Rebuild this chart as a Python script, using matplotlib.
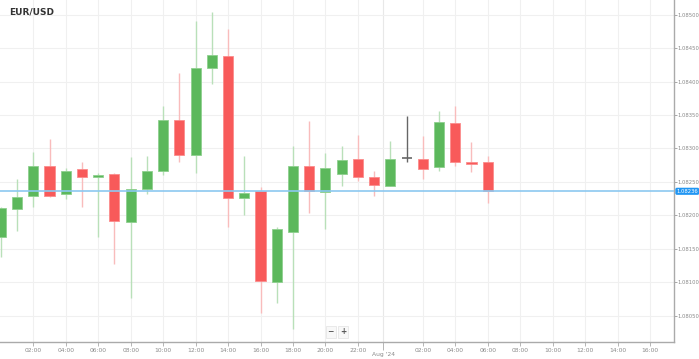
import matplotlib
matplotlib.use('Agg')
import matplotlib.pyplot as plt
import numpy as np

# hourly EUR/USD candles, hour 0 = 00:00 of the first day
hours = list(range(31))
opens = [1.08168, 1.08209, 1.08229, 1.08274, 1.08232, 1.08269, 1.08257, 1.08262,
         1.08190, 1.08240, 1.08266, 1.08342, 1.08291, 1.08420, 1.08439, 1.08226,
         1.08236, 1.08100, 1.08175, 1.08274, 1.08235, 1.08262, 1.08284, 1.08258,
         1.08244, 1.08286, 1.08285, 1.08272, 1.08338, 1.08280, 1.08280]
highs = [1.08213, 1.08255, 1.08295, 1.08314, 1.08271, 1.08280, 1.08263, 1.08263,
         1.08287, 1.08289, 1.08364, 1.08413, 1.08491, 1.08504, 1.08479, 1.08289,
         1.08242, 1.08182, 1.08304, 1.08341, 1.08293, 1.08304, 1.08320, 1.08267,
         1.08311, 1.08349, 1.08318, 1.08356, 1.08364, 1.08309, 1.08289]
lows = [1.08138, 1.08177, 1.08213, 1.08228, 1.08224, 1.08212, 1.08167, 1.08127,
        1.08076, 1.08232, 1.08261, 1.08280, 1.08263, 1.08396, 1.08183, 1.08201,
        1.08054, 1.08069, 1.08030, 1.08204, 1.08180, 1.08244, 1.08252, 1.08229,
        1.08244, 1.08280, 1.08254, 1.08267, 1.08274, 1.08265, 1.08219]
closes = [1.08211, 1.08228, 1.08274, 1.08229, 1.08267, 1.08258, 1.08261, 1.08191,
          1.08240, 1.08267, 1.08342, 1.08290, 1.08420, 1.08440, 1.08226, 1.08234,
          1.08102, 1.08179, 1.08274, 1.08236, 1.08271, 1.08283, 1.08257, 1.08246,
          1.08285, 1.08286, 1.08270, 1.08339, 1.08280, 1.08277, 1.08236]
last_price = 1.08236

tick_hours = [2, 4, 6, 8, 10, 12, 14, 16, 18, 20, 22, 26, 28, 30, 32, 34, 36, 38, 40]
tick_labels = ['02:00', '04:00', '06:00', '08:00', '10:00', '12:00', '14:00', '16:00',
               '18:00', '20:00', '22:00', '02:00', '04:00', '06:00', '08:00', '10:00',
               '12:00', '14:00', '16:00']
date_hour = 23.55
date_label = "Aug '24"
price_ticks = [1.0805, 1.0810, 1.0815, 1.0820, 1.0825, 1.0830, 1.0835, 1.0840, 1.0845, 1.0850]

up_col, down_col = '#5cb85c', '#f85a5a'
up_wick, down_wick = '#b9e0b9', '#f9bcbc'

fig = plt.figure(figsize=(6.99, 3.59), dpi=100)
ax = fig.add_axes([0, 0.0474, 0.9638, 0.9526])

o = np.array(opens); c = np.array(closes); h = np.array(highs); l = np.array(lows)
x = np.array(hours)
up = c > o
down = c < o
flat = c == o

ax.vlines(x[up], l[up], h[up], color=up_wick, lw=1, zorder=2)
ax.vlines(x[down], l[down], h[down], color=down_wick, lw=1, zorder=2)
ax.vlines(x[flat], l[flat], h[flat], color='#666666', lw=1, zorder=2)

ax.bar(x[up], (c - o)[up], bottom=o[up], width=0.62, color=up_col,
       edgecolor='#8fd08f', linewidth=0.6, zorder=3)
ax.bar(x[down], (o - c)[down], bottom=c[down], width=0.62, color=down_col,
       edgecolor='#fb8c8c', linewidth=0.6, zorder=3)
ax.hlines(o[flat], x[flat] - 0.31, x[flat] + 0.31, color='#666666', lw=1.2, zorder=3)

# last price line
ax.axhline(last_price, color='#8cc8f0', lw=1.2, zorder=4)

ax.set_xlim(-0.052, 41.46)
ax.set_ylim(1.080107, 1.08522)

# grid
for t in tick_hours:
    ax.axvline(t, color='#f0f0f0', lw=0.8, zorder=0)
ax.axvline(date_hour, color='#e8e8e8', lw=0.8, zorder=0)
for p in price_ticks:
    ax.axhline(p, color='#f0f0f0', lw=0.8, zorder=0)

ax.yaxis.tick_right()
ax.set_yticks(price_ticks)
ax.set_yticklabels(['%.5f' % p for p in price_ticks])
ax.tick_params(axis='y', length=2, width=0.6, color='#999999', labelsize=3.8,
               labelcolor='#8a8a8a', pad=0.8)

ax.set_xticks(tick_hours)
ax.set_xticklabels(tick_labels)
ax.set_xticks([date_hour], minor=True)
ax.set_xticklabels([date_label], minor=True)
ax.tick_params(axis='x', which='major', length=3, width=0.6, color='#aaaaaa',
               labelsize=4.3, labelcolor='#8a8a8a', pad=1.5)
ax.tick_params(axis='x', which='minor', length=6, width=0.6, color='#aaaaaa',
               labelsize=4.3, labelcolor='#8a8a8a', pad=1.5)

for side in ['top', 'left']:
    ax.spines[side].set_visible(False)
for side in ['right', 'bottom']:
    ax.spines[side].set_color('#aaaaaa')
    ax.spines[side].set_linewidth(1)

# last price tag
ax.text(1.004, last_price, '1.08236', transform=ax.get_yaxis_transform(),
        ha='left', va='center', fontsize=3.8, color='white', zorder=6,
        bbox=dict(boxstyle='round,pad=0.2,rounding_size=0.3', fc='#2196f3', ec='none'),
        clip_on=False)

ax.text(0.014, 0.965, 'EUR/USD', transform=ax.transAxes, fontsize=6.5,
        fontweight='bold', color='#333333', ha='left', va='center')

# zoom buttons
for xb, s in [(0.491, '\u2212'), (0.509, '+')]:
    ax.text(xb, 0.030, s, transform=ax.transAxes, fontsize=5.5, color='#555555',
            fontweight='bold', ha='center', va='center',
            bbox=dict(boxstyle='square,pad=0.2', fc='#f8f8f8', ec='#e2e2e2', lw=0.5))

fig.savefig('out.png', dpi=100)
